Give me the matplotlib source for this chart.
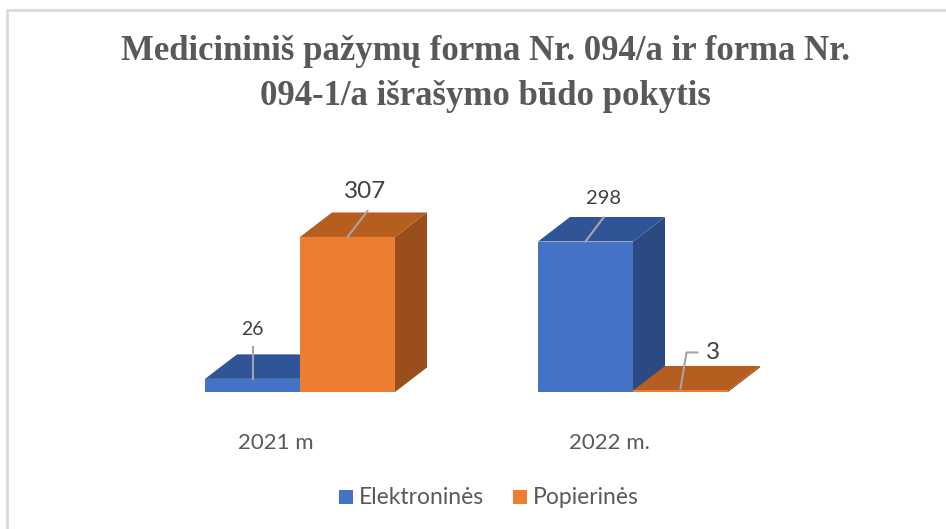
import matplotlib
matplotlib.use("Agg")
import matplotlib.pyplot as plt
from matplotlib.patches import Polygon, Rectangle
from matplotlib.lines import Line2D
import numpy as np

# ---- data ----
categories = ["2021 m", "2022 m."]
series_names = ["Elektroninės", "Popierinės"]
elektronines = [26, 298]
popierines = [307, 3]
title = "Medicininiš pažymų forma Nr. 094/a ir forma Nr.\n094-1/a išrašymo būdo pokytis"

# ---- styling ----
front_cols = ["#4472C4", "#ED7D31"]
top_cols = ["#2F5597", "#B65D20"]
side_cols = ["#2C4A82", "#9A4E1B"]
txt_col = "#595959"
W, H, DPI = 946, 529, 100

fig = plt.figure(figsize=(W / DPI, H / DPI), dpi=DPI)
fig.patch.set_facecolor("white")
ax = fig.add_axes([0, 0, 1, 1])
ax.set_axis_off()

# scales: pixel mapping chosen to match layout
px_per_cat = 333.0
px_per_val = 0.505
x0_px, base_px = 300.0, 392.0
ax.set_xlim(-x0_px / px_per_cat, (W - x0_px) / px_per_cat)
ax.set_ylim((base_px - H) / px_per_val, base_px / px_per_val)

bar_w = 95.0 / px_per_cat
depth_x = 32.0 / px_per_cat
depth_y = 24.5 / px_per_val

x = np.arange(len(categories))
values = [elektronines, popierines]
offsets = [-bar_w / 2, bar_w / 2]

for s, (vals, off) in enumerate(zip(values, offsets)):
    for i, v in enumerate(vals):
        xl = x[i] + off - bar_w / 2
        xr = xl + bar_w
        # side face
        ax.add_patch(Polygon([(xr, 0), (xr + depth_x, depth_y), (xr + depth_x, v + depth_y), (xr, v)],
                             closed=True, facecolor=side_cols[s], edgecolor="none", zorder=2 + i))
        # top face
        ax.add_patch(Polygon([(xl, v), (xl + depth_x, v + depth_y), (xr + depth_x, v + depth_y), (xr, v)],
                             closed=True, facecolor=top_cols[s], edgecolor="none", zorder=2 + i))
    ax.bar(x + off, vals, width=bar_w, color=front_cols[s], edgecolor="none", zorder=3)

# data labels with leader lines (pixel offsets from front-top centre)
label_specs = [
    # (series, index, line path offsets px (dx, dy up), text offset px, fontsize)
    (0, 0, [(0, 0), (0, 32)], (0, 49), 14),
    (1, 0, [(0, 0), (20, 26)], (18, 45), 17.5),
    (0, 1, [(0, 0), (18, 24)], (18, 43), 14.5),
    (1, 1, [(0, 2), (6, 38), (17, 38)], (32, 38), 17.5),
]
fig.canvas.draw()
for s, i, path, toff, fs in label_specs:
    v = values[s][i]
    ax_pt = ax.transData.transform((x[i] + offsets[s], v))
    xs = [ax_pt[0] + p[0] for p in path]
    ys = [ax_pt[1] + p[1] for p in path]
    fig.add_artist(Line2D(xs, ys, transform=None, color="#A6A6A6", lw=1.5, zorder=10))
    fig.text((ax_pt[0] + toff[0]) / W, (ax_pt[1] + toff[1]) / H, str(v), ha="center", va="center",
             fontsize=fs, color="#404040", family="Lato", zorder=11)

# category labels
for i, c in enumerate(categories):
    ax.text(x[i] - 24 / px_per_cat, (base_px - 443) / px_per_val, c, ha="center", va="center",
            fontsize=16, color=txt_col, family="Lato")

# title
fig.text(485 / W, 1 - 74 / H, title, ha="center", va="center", fontsize=25, fontweight="bold",
         family="Liberation Serif", color=txt_col, linespacing=1.5)

# legend
leg_items = [(339, series_names[0], front_cols[0]), (513, series_names[1], front_cols[1])]
for px, name, col in leg_items:
    fig.add_artist(Rectangle((px / W, 1 - 504 / H), 14 / W, 14 / H, transform=fig.transFigure,
                             facecolor=col, edgecolor="none"))
    fig.text((px + 20) / W, 1 - 497 / H, name, ha="left", va="center", fontsize=16.5,
             color=txt_col, family="Lato")

# outer frame (partial, as cropped)
fig.add_artist(Line2D([7 / W, 7 / W, 1], [0, 1 - 10 / H, 1 - 10 / H], transform=fig.transFigure,
                      color="#D9D9D9", lw=2))

fig.savefig("out.png", dpi=DPI)
